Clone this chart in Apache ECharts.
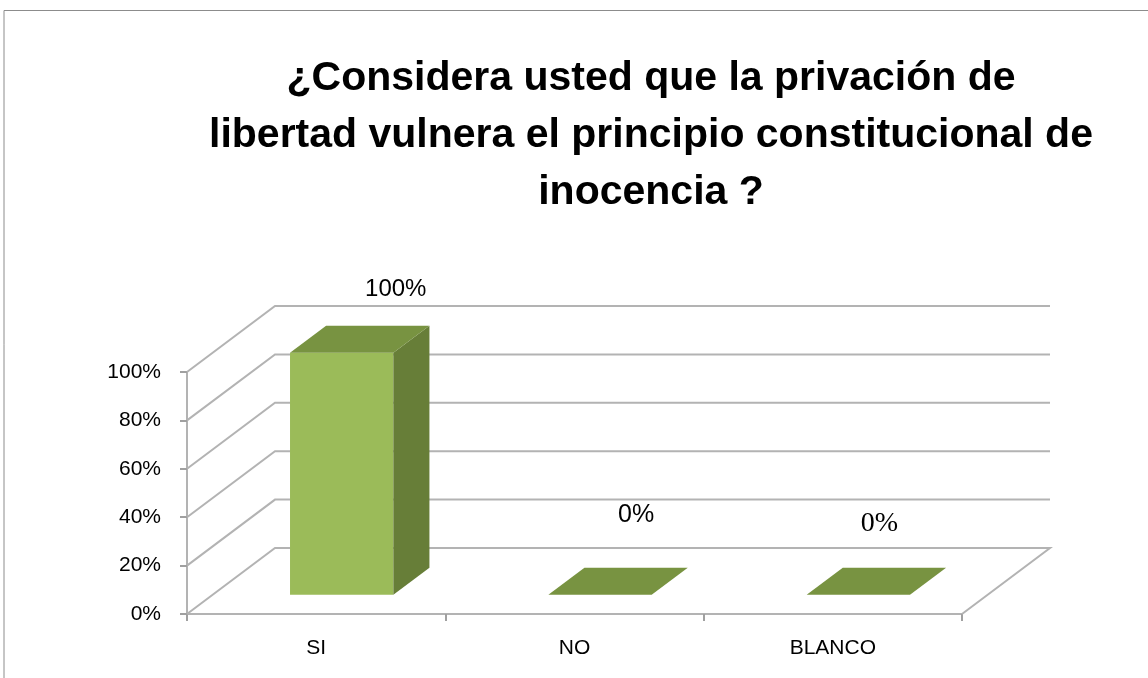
<!DOCTYPE html>
<html>
<head>
<meta charset="utf-8">
<title>Privación de libertad</title>
<script src="https://cdn.jsdelivr.net/npm/echarts@6/dist/echarts.min.js"></script>
<style>
  html, body { margin: 0; padding: 0; background: #fff; }
  #chart { width: 1148px; height: 678px; }
</style>
</head>
<body>
<div id="chart"></div>
<script>
// datos del grafico
const categories = ['SI', 'NO', 'BLANCO'];
const values = [1.0, 0.0, 0.0];
const yTicks = [0, 0.2, 0.4, 0.6, 0.8, 1.0];
const titleLines = [
  '¿Considera usted que la privación de',
  'libertad vulnera el principio constitucional de',
  'inocencia ?'
];

// perspectiva del "3D" (pixeles de profundidad)
const DX = 88, DY = -66;
const T0 = 0.29, T1 = 0.70, BAR_W = 0.40;
const lineColor = '#b3b3b3';
// ajustes de las etiquetas de datos, como en el original
const labelOffsets = [[36, -50], [18, -66], [3, -58]];
const labelFonts = ['Liberation Sans', 'Liberation Sans', 'Liberation Serif'];
const labelSizes = [24, 25, 28];

const pct = v => Math.round(v * 100) + '%';

let myChart = echarts.init(document.getElementById('chart'));

function renderWall(params, api) {
  const v = api.value(1);
  const bw = api.size([1, 0])[0];
  const l = api.coord([0, v]);
  const r = api.coord([categories.length - 1, v]);
  const x0 = l[0] - bw / 2, x1 = r[0] + bw / 2, y = l[1];
  const pts = [[x0, y], [x0 + DX, y + DY], [x1 + DX, y + DY]];
  if (v === 0) pts.push([x1, y]);
  return {
    type: 'polyline',
    shape: { points: pts },
    style: { stroke: lineColor, lineWidth: 2, fill: null }
  };
}

function renderBar(params, api) {
  const i = api.value(0), v = api.value(1);
  const bw = api.size([1, 0])[0];
  const base = api.coord([i, 0]);
  const top = api.coord([i, v]);
  const w = bw * BAR_W;
  const fx0 = base[0] - w / 2 + DX * T0, fx1 = fx0 + w;
  const fyB = base[1] + DY * T0, fyT = top[1] + DY * T0;
  const ddx = DX * (T1 - T0), ddy = DY * (T1 - T0);
  const children = [];
  if (fyB - fyT > 0.5) {
    children.push({
      type: 'rect',
      shape: { x: fx0, y: fyT, width: w, height: fyB - fyT },
      style: { fill: '#9bbb59' }
    });
    children.push({
      type: 'polygon',
      shape: { points: [[fx1, fyT], [fx1 + ddx, fyT + ddy], [fx1 + ddx, fyB + ddy], [fx1, fyB]] },
      style: { fill: '#677e38' }
    });
  }
  children.push({
    type: 'polygon',
    shape: { points: [[fx0, fyT], [fx1, fyT], [fx1 + ddx, fyT + ddy], [fx0 + ddx, fyT + ddy]] },
    style: { fill: '#789341' }
  });
  const off = labelOffsets[i];
  children.push({
    type: 'text',
    style: {
      text: pct(v),
      x: (fx0 + fx1) / 2 + ddx / 2 + off[0],
      y: fyT + ddy / 2 + off[1],
      align: 'center',
      verticalAlign: 'middle',
      fill: '#000',
      fontSize: labelSizes[i],
      fontFamily: labelFonts[i]
    }
  });
  return { type: 'group', children: children };
}

let option = {
  animation: false,
  backgroundColor: '#fff',
  title: {
    text: titleLines.join('\n'),
    left: 646,
    top: 45,
    textAlign: 'center',
    textStyle: {
      fontFamily: 'Liberation Sans',
      fontWeight: 'bold',
      fontSize: 41,
      lineHeight: 57,
      color: '#000'
    }
  },
  graphic: [
    {
      type: 'polyline',
      shape: { points: [[4, 678], [4, 10.5], [1148, 10.5]] },
      style: { stroke: '#8c8c8c', lineWidth: 1, fill: null },
      silent: true
    }
  ],
  grid: {
    left: 187,
    right: 186,
    top: 372,
    bottom: 64
  },
  xAxis: {
    type: 'category',
    data: categories,
    axisLine: { lineStyle: { color: lineColor, width: 2 } },
    axisTick: { show: true, length: 7, lineStyle: { color: '#a0a0a0', width: 2 } },
    axisLabel: { fontSize: 21, color: '#000', margin: 24, fontFamily: 'Liberation Sans' },
    splitLine: { show: false }
  },
  yAxis: {
    type: 'value',
    min: yTicks[0],
    max: yTicks[yTicks.length - 1],
    interval: yTicks[1] - yTicks[0],
    axisLine: { show: true, lineStyle: { color: lineColor, width: 2 } },
    axisTick: { show: true, length: 7, lineStyle: { color: '#a0a0a0', width: 2 } },
    axisLabel: { fontSize: 21, color: '#000', margin: 26, fontFamily: 'Liberation Sans', formatter: pct },
    splitLine: { show: false }
  },
  series: [
    {
      name: 'paredes',
      type: 'custom',
      renderItem: renderWall,
      data: yTicks.map(v => [0, v]),
      encode: { x: 0, y: 1 },
      silent: true,
      z: 1
    },
    {
      name: 'respuestas',
      type: 'custom',
      renderItem: renderBar,
      data: values.map((v, i) => [i, v]),
      encode: { x: 0, y: 1 },
      z: 2
    }
  ]
};

myChart.setOption(option);
</script>
</body>
</html>
